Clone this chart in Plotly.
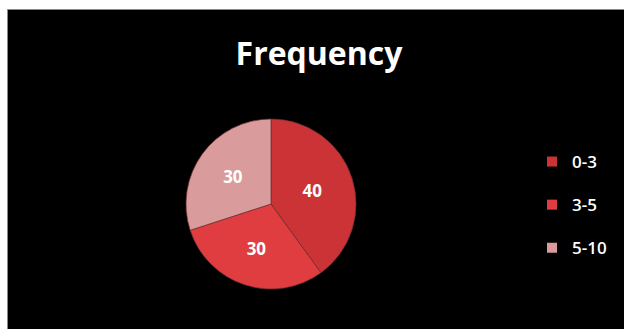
import plotly.graph_objects as go

categories = ["0-3", "3-5", "5-10"]
values = [40, 30, 30]
colors = ["#CB3337", "#DF3D40", "#D99B9B"]

W, H = 624, 329

fig = go.Figure()
fig.add_trace(go.Pie(
    labels=categories, values=values, sort=False, direction="clockwise", rotation=0,
    marker=dict(colors=colors, line=dict(color="rgba(110,50,50,0.7)", width=1)),
    textinfo="value", textposition="inside", insidetextorientation="horizontal",
    textfont=dict(family="Open Sans", size=17, color="white", weight="bold"),
    showlegend=False,
    domain=dict(x=[186 / W, 356 / W], y=[(H - 289) / H, (H - 119) / H]),
))

for cat, col in zip(categories, colors):
    fig.add_trace(go.Scatter(
        x=[None], y=[None], mode="markers", name=cat, legendgroup=cat,
        marker=dict(symbol="square", size=10, color=col),
    ))

fig.update_layout(
    width=W, height=H,
    margin=dict(l=0, r=0, t=0, b=0),
    paper_bgcolor="white", plot_bgcolor="rgba(0,0,0,0)",
    xaxis=dict(visible=False), yaxis=dict(visible=False),
    shapes=[dict(type="rect", xref="paper", yref="paper",
                 x0=7.5 / W, x1=1.01, y0=-0.01, y1=1 - 9.5 / H,
                 fillcolor="black", line=dict(color="#888888", width=1), layer="below")],
    title=dict(text="<b>Frequency</b>", x=319 / W, xanchor="center",
               y=1 - 54 / H, yanchor="middle",
               font=dict(family="Open Sans", size=32, color="white")),
    legend=dict(x=532 / W, xanchor="left", y=1 - 144 / H, yanchor="top",
                font=dict(family="Open Sans", size=17, color="white", weight=600),
                bgcolor="rgba(0,0,0,0)", tracegroupgap=18, itemwidth=30),
    showlegend=True,
)

fig.write_html("out.html")
